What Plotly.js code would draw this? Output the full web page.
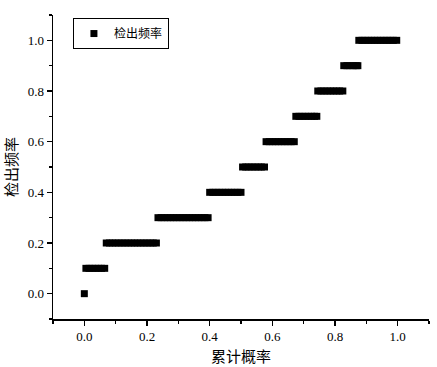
<!DOCTYPE html>
<html>
<head>
<meta charset="utf-8">
<script src="https://cdn.plot.ly/plotly-3.0.1.min.js"></script>
<style>html,body{margin:0;padding:0;background:#fff;}#chart{width:437px;height:367px;}</style>
</head>
<body>
<div id="chart"></div>
<script>
// cumulative probability (x) of the samples, grouped by detection frequency level
var xAt00 = [0.0];
var xAt01 = [0.005, 0.015, 0.025, 0.035, 0.045, 0.055, 0.065];
var xAt02 = [0.07, 0.08, 0.09, 0.10, 0.11, 0.12, 0.13, 0.14, 0.15, 0.16, 0.17, 0.18, 0.19, 0.20, 0.21, 0.22, 0.23];
var xAt03 = [0.235, 0.245, 0.255, 0.265, 0.275, 0.285, 0.295, 0.305, 0.315, 0.325, 0.335, 0.345, 0.355, 0.365, 0.375, 0.385, 0.395];
var xAt04 = [0.40, 0.41, 0.42, 0.43, 0.44, 0.45, 0.46, 0.47, 0.48, 0.49, 0.50];
var xAt05 = [0.505, 0.515, 0.525, 0.535, 0.545, 0.555, 0.565, 0.575];
var xAt06 = [0.58, 0.59, 0.60, 0.61, 0.62, 0.63, 0.64, 0.65, 0.66, 0.67];
var xAt07 = [0.675, 0.685, 0.695, 0.705, 0.715, 0.725, 0.735, 0.742];
var xAt08 = [0.745, 0.755, 0.765, 0.775, 0.785, 0.795, 0.805, 0.815, 0.825];
var xAt09 = [0.828, 0.838, 0.848, 0.858, 0.868, 0.873];
var xAt10 = [0.876, 0.886, 0.896, 0.906, 0.916, 0.926, 0.936, 0.946, 0.956, 0.966, 0.976, 0.986, 0.997];

var levels = [0.0, 0.1, 0.2, 0.3, 0.4, 0.5, 0.6, 0.7, 0.8, 0.9, 1.0];
var groups = [xAt00, xAt01, xAt02, xAt03, xAt04, xAt05, xAt06, xAt07, xAt08, xAt09, xAt10];

var seriesName = "检出频率";
var xTitle = "累计概率";
var yTitle = "检出频率";

var cumProb = [], detectFreq = [];
groups.forEach(function (g, i) {
  g.forEach(function (v) { cumProb.push(v); detectFreq.push(levels[i]); });
});

var cjk = '"Noto Sans CJK SC", sans-serif';
var serif = '"Liberation Serif", "Times New Roman", serif';

var trace = {
  x: cumProb, y: detectFreq, type: 'scatter', mode: 'markers', name: seriesName,
  marker: {symbol: 'square', size: 7, color: '#000', line: {width: 0}}
};

var axisCommon = {
  range: [-0.1, 1.1], dtick: 0.2, tick0: 0, tickformat: '.1f',
  showgrid: false, zeroline: false, showline: true, linecolor: '#000', linewidth: 1.5,
  ticks: 'outside', ticklen: 5, tickwidth: 1.2, tickcolor: '#000',
  minor: {dtick: 0.1, ticks: 'outside', ticklen: 3, tickwidth: 1.2, tickcolor: '#000', showgrid: false},
  tickfont: {family: serif, size: 13, color: '#000'}
};

var layout = {
  width: 437, height: 367,
  margin: {l: 53, r: 8, t: 15, b: 48},
  paper_bgcolor: '#fff', plot_bgcolor: '#fff',
  showlegend: true,
  legend: {
    x: 0.053, y: 0.99, xanchor: 'left', yanchor: 'top',
    bordercolor: '#000', borderwidth: 1, bgcolor: '#fff',
    font: {family: cjk, size: 12, color: '#000'},
    itemwidth: 30
  },
  xaxis: Object.assign({}, axisCommon, {
    title: {text: xTitle, font: {family: cjk, size: 15, color: '#000'}, standoff: 8}
  }),
  yaxis: Object.assign({}, axisCommon, {
    title: {text: yTitle, font: {family: cjk, size: 15, color: '#000'}, standoff: 6}
  })
};

Plotly.newPlot('chart', [trace], layout, {displayModeBar: false, staticPlot: true});
</script>
</body>
</html>
